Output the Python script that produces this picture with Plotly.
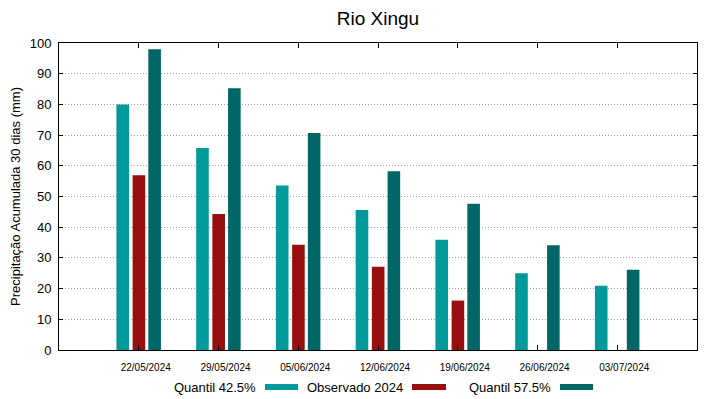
import plotly.graph_objects as go

categories = ["22/05/2024", "29/05/2024", "05/06/2024", "12/06/2024",
              "19/06/2024", "26/06/2024", "03/07/2024"]
q425 = [80.0, 65.8, 53.6, 45.6, 35.9, 25.0, 20.9]
obs2024 = [56.9, 44.3, 34.3, 27.1, 16.1, None, None]
q575 = [98.0, 85.3, 70.7, 58.2, 47.6, 34.1, 26.1]
yticks = [0, 10, 20, 30, 40, 50, 60, 70, 80, 90, 100]

series_names = ["Quantil 42.5%", "Observado 2024", "Quantil 57.5%"]
colors = ["#009a9a", "#990f0f", "#006666"]
offsets = [-0.28, -0.077, 0.12]
width = 0.158

xs = list(range(len(categories)))
fig = go.Figure()
for name, vals, col, off in zip(series_names, [q425, obs2024, q575], colors, offsets):
    fig.add_trace(go.Bar(x=xs, y=vals, name=name, offset=off, width=width,
                         marker=dict(color=col, line=dict(width=0)),
                         showlegend=False))

# page body has an 8px default margin; compensate so the plot lands in place
PAD = 8
W, H = 719 - PAD, 399 - PAD
L, R, T, B = 59 - PAD, 22, 43 - PAD, 49
pw, ph = W - L - R, H - T - B

def px_x(p):
    return (p - PAD - L) / pw

def px_y(p):
    return (H - B - (p - PAD)) / ph

# custom legend: text followed by colour swatch
legend_items = [(258, 265, 298), (405, 412, 446), (553, 560, 593)]
ly = 387
for (tx, s0, s1), name, col in zip(legend_items, series_names, colors):
    fig.add_annotation(x=px_x(tx), y=px_y(ly), xref="paper", yref="paper",
                       text=name, showarrow=False, xanchor="right", yanchor="middle",
                       font=dict(size=13, color="#000000"))
    fig.add_shape(type="rect", xref="paper", yref="paper",
                  x0=px_x(s0), x1=px_x(s1), y0=px_y(ly + 3), y1=px_y(ly - 3),
                  fillcolor=col, line=dict(width=0))

fig.update_layout(
    width=W, height=H,
    margin=dict(l=L, r=R, t=T, b=B, autoexpand=False),
    paper_bgcolor="white", plot_bgcolor="white",
    font=dict(family="Liberation Sans, Arial, sans-serif", color="#000000"),
    title=dict(text="Rio Xingu", x=0.5, xref="paper", xanchor="center",
               y=1, yref="container", yanchor="top",
               pad=dict(t=4, b=0, l=0, r=0),
               font=dict(size=19)),
    barmode="overlay",
    xaxis=dict(range=[-1, len(categories)], tickvals=xs, ticktext=categories,
               ticks="inside", ticklen=5, tickcolor="#000000",
               showline=True, linecolor="#000000", linewidth=1, mirror="allticks",
               showgrid=False, zeroline=False, tickfont=dict(size=10),
               ticklabelstandoff=8, ticklabelshift=7, automargin=False),
    yaxis=dict(range=[0, 100], tickvals=yticks, ticks="inside", ticklen=4,
               tickcolor="#000000", showline=True, linecolor="#000000",
               linewidth=1, mirror="allticks", showgrid=True,
               gridcolor="#a0a0a0", griddash="1px,2px", gridwidth=1, zeroline=False,
               tickfont=dict(size=13), ticklabelstandoff=4, automargin=False,
               title=dict(text="Precipitação Acumulada 30 dias (mm)",
                          font=dict(size=13), standoff=7)),
)

fig.write_html("out.html")
